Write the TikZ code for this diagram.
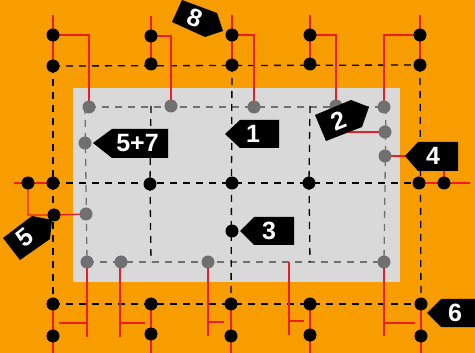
\documentclass[tikz,border=0pt]{standalone}
\usepackage{fontspec}
\setmainfont{Liberation Sans}
\definecolor{bgor}{HTML}{F79D00}
\definecolor{panel}{HTML}{D9D9D9}
\definecolor{gdot}{HTML}{707070}
\definecolor{wire}{HTML}{EE1C25}
\tikzset{
 bdot/.style={circle,fill=black,draw=none,minimum size=13pt,inner sep=0pt},
 gydot/.style={circle,fill=gdot,draw=none,minimum size=13pt,inner sep=0pt},
 redw/.style={draw=wire,line width=1.3pt},
 bdash/.style={draw=black,line width=1.3pt,dash pattern=on 7pt off 6pt},
 gdash/.style={draw=gdot,line width=1.3pt,dash pattern=on 7pt off 6pt},
 tagtext/.style={text=white,font=\bfseries\fontsize{25}{25}\selectfont,inner sep=0pt},
 tagshape/.style={fill=black,draw=none},
}
\begin{document}
\begin{tikzpicture}[x=1pt,y=-1pt]
\useasboundingbox (0,0) rectangle (475,353);
\fill[bgor] (0,0) rectangle (475,353);
\fill[panel] (73,88) rectangle (400,282);
% coordinates
\foreach \n/\x/\y in {t1/53/35,t2/151/36,t3/232/35,t4/310/35,t5/420/35,
 u1/53/66,u2/151/64,u3/232/65,u4/310/64,u5/420/65,
 ma/28/183,m1/53/183,m2/150/184,m3/232/183,m4/309/183,m5/419/183,mb/444/183,
 l5/54/215,c3/232/231,
 v1/53/304,v2/151/304,v3/231/304,v4/310/304,v5/421/304,
 w1/53/336,w2/151/334,w3/231/336,w4/310/335,w5/421/336}
 {\coordinate (\n) at (\x,\y);}
\foreach \n/\x/\y in {g1/89/107,g2/171/106,g3/254/107,g4/336/106,g5/384/107,g6/385/132,g7/385/156,g8/85/143,g9/86/214,g10/87/262,g11/121/262,g12/208/262,g13/384/262}
 {\coordinate (\n) at (\x,\y);}
% gray dashed
\draw[gdash] (g1) -- (g5);
\draw[gdash] (85,107) -- (g10);
\draw[gdash] (386,107) -- (g13);
\draw[gdash] (g10) -- (g13);
% black dashed inner
\draw[bdash] (151,106) -- (m2);
\draw[bdash] (m2) -- (151,262);
\draw[bdash] (u3) -- (v3);
\draw[bdash] (310,106) -- (m4);
\draw[bdash] (m4) -- (310,262);
\draw[bdash] (m1) -- (m5);
\draw[bdash] (u1) -- (u5);
\draw[bdash] (u1) -- (v1);
\draw[bdash] (u5) -- (v5);
\draw[bdash] (v1) -- (v5);
% red wires
\foreach \i in {1,...,5} {\draw[redw] (t\i) ++(0,-20) -- (u\i);}
\draw[redw] (t1) -| (g1);
\draw[redw] (t2) -| (g2);
\draw[redw] (t3) -| (g3);
\draw[redw] (t4) -| (g4);
\draw[redw] (t5) -| (g5);
\draw[redw] (14,183) -- (m1);
\draw[redw] (ma) |- (l5) -- (g9);
\draw[redw] (g6) -- (348,132);
\draw[redw] (g7) -- (405,156);
\draw[redw] (m5) -- (470,183);
\draw[redw] (mb) -- (444,170);
\foreach \i in {1,...,5} {\draw[redw] (v\i) -- (w\i) -- ++(0,30);}
\draw[redw] (g10) -- (87,337) (87,323) -- (59,323);
\draw[redw] (120,262) -- (120,337) (120,323) -- (145,323);
\draw[redw] (208,262) -- (208,336) (208,322) -- (224,322);
\draw[redw] (289,262) -- (289,335) (289,321) -- (304,321);
\draw[redw] (g13) -- (384,336) (384,323) -- (415,323);
% dots
\foreach \n in {t1,t2,t3,t4,t5,u1,u2,u3,u4,u5,ma,m1,m2,m3,m4,m5,mb,l5,c3,v1,v2,v3,v4,v5,w1,w2,w3,w4,w5}
 {\node[bdot] (d\n) at (\n) {};}
\foreach \n in {g1,g2,g3,g4,g5,g6,g7,g8,g9,g10,g11,g12,g13}
 {\node[gydot] (d\n) at (\n) {};}
% tags
\fill[tagshape] (93,143) -- (112,129) -- (168,129) -- (168,158) -- (112,158) -- cycle;
\node[tagtext] (t57) at (137.5,143.5) {5+7};
\fill[tagshape] (225,134) -- (240,120) -- (279,120) -- (279,148) -- (240,148) -- cycle;
\node[tagtext] (t1b) at (253,134) {1};
\fill[tagshape] (240,231) -- (254,217) -- (294,217) -- (294,245) -- (254,245) -- cycle;
\node[tagtext] (t3b) at (269,231) {3};
\fill[tagshape] (405,156) -- (418,142) -- (458,142) -- (458,171) -- (418,171) -- cycle;
\node[tagtext] (t4b) at (433,156) {4};
\fill[tagshape] (427,313) -- (441,299) -- (475,299) -- (475,327) -- (441,327) -- cycle;
\node[tagtext] (t6b) at (455,313) {6};
\fill[tagshape] (315,115) -- (351,100) -- (369,107) -- (362,127) -- (326,141) -- cycle;
\node[tagtext,rotate=22] (t2b) at (339,121) {2};
\fill[tagshape] (182,0) -- (217,13) -- (223,31) -- (205,37) -- (172,22) -- cycle;
\node[tagtext,rotate=-21] (t8b) at (195,18) {8};
\fill[tagshape] (3,238) -- (32,216) -- (52,220) -- (50,239) -- (20,260) -- cycle;
\node[tagtext,rotate=38] (t5b) at (25,238) {5};
\end{tikzpicture}
\end{document}
